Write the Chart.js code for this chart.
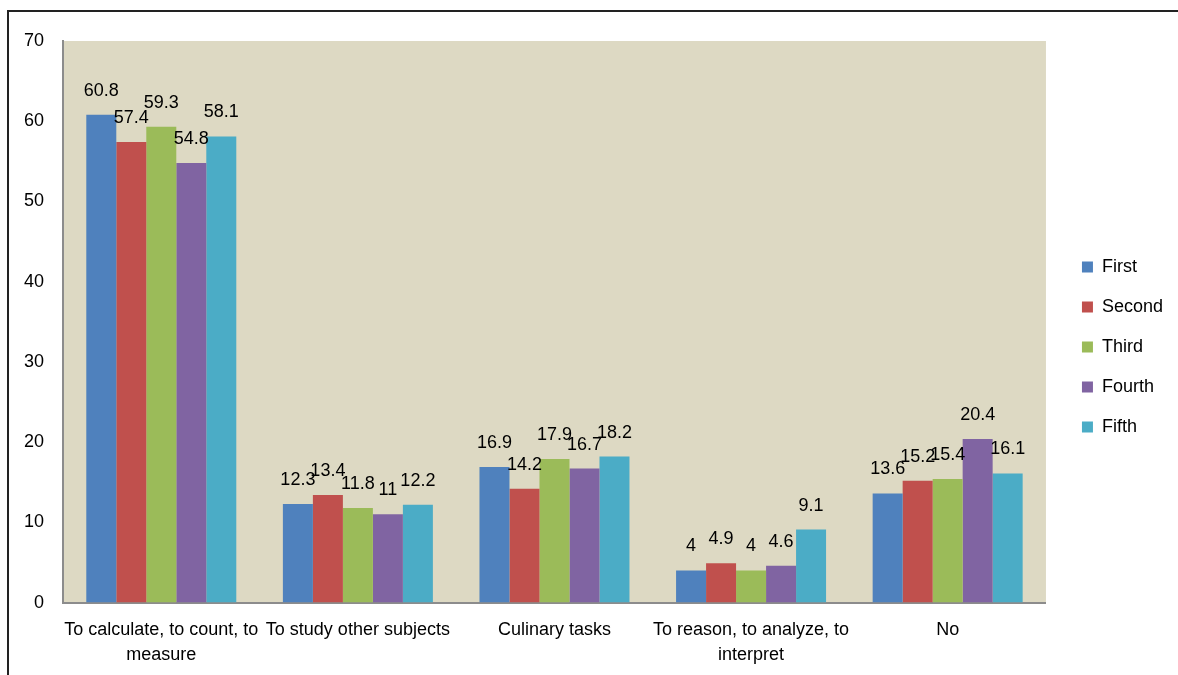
<!DOCTYPE html>
<html>
<head>
<meta charset="utf-8">
<script src="https://cdn.jsdelivr.net/npm/chart.js@4"></script>
<style>
  html, body { margin: 0; padding: 0; background: #fff; }
  #wrap { position: relative; width: 1178px; height: 675px; overflow: hidden; }
  #frame { position: absolute; left: 7px; top: 10px; width: 1300px; height: 800px; border-top: 2px solid #222; border-left: 2px solid #222; }
  canvas { position: absolute; left: 0; top: 0; }
</style>
</head>
<body>
<div id="wrap">
  <div id="frame"></div>
  <canvas id="chart" width="1178" height="675"></canvas>
</div>
<script>
const categories = [
  ['To calculate, to count, to', 'measure'],
  'To study other subjects',
  'Culinary tasks',
  ['To reason, to analyze, to', 'interpret'],
  'No'
];
const first = [60.8, 12.3, 16.9, 4, 13.6];
const second = [57.4, 13.4, 14.2, 4.9, 15.2];
const third = [59.3, 11.8, 17.9, 4, 15.4];
const fourth = [54.8, 11, 16.7, 4.6, 20.4];
const fifth = [58.1, 12.2, 18.2, 9.1, 16.1];

const font = { family: '"Liberation Sans", Arial, sans-serif', size: 18 };

// beige plot background
const plotBg = {
  id: 'plotBg',
  beforeDraw(chart) {
    const a = chart.chartArea;
    const ctx = chart.ctx;
    ctx.save();
    ctx.fillStyle = '#DDD9C3';
    ctx.fillRect(a.left, a.top, a.right - a.left, a.bottom - a.top);
    ctx.restore();
  }
};

// value labels above bars
const valueLabels = {
  id: 'valueLabels',
  afterDatasetsDraw(chart) {
    const ctx = chart.ctx;
    ctx.save();
    ctx.font = '18px "Liberation Sans", Arial, sans-serif';
    ctx.fillStyle = '#000';
    ctx.textAlign = 'center';
    ctx.textBaseline = 'middle';
    chart.data.datasets.forEach((ds, i) => {
      chart.getDatasetMeta(i).data.forEach((bar, j) => {
        ctx.fillText(String(ds.data[j]), bar.x, bar.y - 24);
      });
    });
    ctx.restore();
  }
};

new Chart(document.getElementById('chart'), {
  type: 'bar',
  data: {
    labels: categories,
    datasets: [
      { label: 'First', data: first, backgroundColor: '#4F81BD' },
      { label: 'Second', data: second, backgroundColor: '#C0504D' },
      { label: 'Third', data: third, backgroundColor: '#9BBB59' },
      { label: 'Fourth', data: fourth, backgroundColor: '#8064A2' },
      { label: 'Fifth', data: fifth, backgroundColor: '#4BACC6' }
    ]
  },
  options: {
    responsive: false,
    animation: false,
    layout: { padding: { top: 19, left: 0, right: 5, bottom: 0 } },
    datasets: { bar: { categoryPercentage: 0.763, barPercentage: 1 } },
    scales: {
      x: {
        grid: { display: false },
        border: { color: '#8C8C8C', width: 2 },
        ticks: { color: '#000', font: Object.assign({ lineHeight: 1.4 }, font), maxRotation: 0, autoSkip: false, padding: 7 }
      },
      topSpace: {
        type: 'category',
        position: 'top',
        display: true,
        grid: { display: false },
        border: { display: false },
        ticks: { display: false },
        afterFit(scale) { scale.height = 22; }
      },
      y: {
        min: 0,
        max: 70,
        grid: { display: false },
        border: { color: '#8C8C8C', width: 2 },
        ticks: { stepSize: 10, color: '#000', font: font, padding: 11 },
        afterFit(scale) { scale.width = 63; }
      },
      gap: {
        position: 'right',
        display: true,
        grid: { display: false },
        border: { display: false },
        ticks: { display: false },
        afterFit(scale) { scale.width = 14; }
      }
    },
    plugins: {
      legend: {
        position: 'right',
        labels: { boxWidth: 11, boxHeight: 11, padding: 22, color: '#000', font: font }
      },
      tooltip: { enabled: false }
    }
  },
  plugins: [plotBg, valueLabels]
});
</script>
</body>
</html>
